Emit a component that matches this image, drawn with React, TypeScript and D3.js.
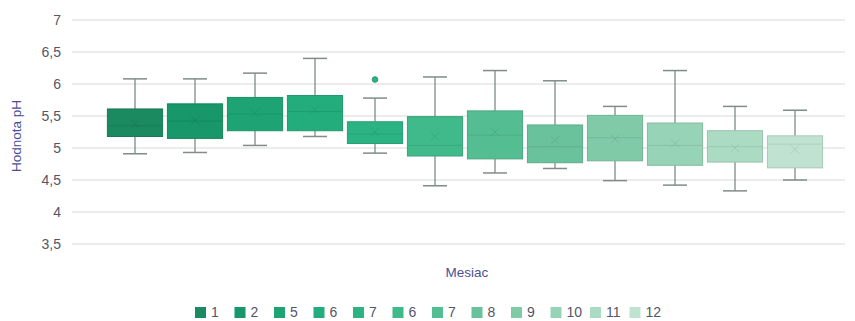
import React from "react";
import * as d3 from "d3";

const categories = ["1", "2", "3", "4", "5", "6", "7", "8", "9", "10", "11", "12"];
const legendLabels = ["1", "2", "5", "6", "7", "6", "7", "8", "9", "10", "11", "12"];
const whiskerLow = [4.91, 4.93, 5.04, 5.18, 4.92, 4.41, 4.61, 4.68, 4.49, 4.42, 4.33, 4.5];
const q1 = [5.18, 5.15, 5.27, 5.27, 5.07, 4.875, 4.83, 4.77, 4.8, 4.73, 4.78, 4.69];
const medians = [5.35, 5.42, 5.53, 5.57, 5.22, 5.04, 5.2, 5.02, 5.16, 5.04, 5.02, 5.06];
const q3 = [5.61, 5.69, 5.79, 5.82, 5.41, 5.49, 5.58, 5.36, 5.51, 5.39, 5.27, 5.19];
const whiskerHigh = [6.08, 6.08, 6.17, 6.4, 5.78, 6.11, 6.21, 6.05, 5.65, 6.21, 5.65, 5.59];
const means = [5.38, 5.43, 5.55, 5.6, 5.25, 5.18, 5.25, 5.12, 5.14, 5.07, 5.0, 4.98];
const outliers: [number, number][] = [[4, 6.07]];
const colors = ["#1b8a61", "#17976a", "#1ea474", "#23ac7c", "#2cb384", "#40b98b", "#55bd92", "#69c29c", "#80caa8", "#97d3b6", "#acdbc4", "#c0e3d1"];
const yTicks = [3.5, 4, 4.5, 5, 5.5, 6, 6.5, 7];

export default function App() {
  const W = 855, H = 321;
  const y = d3.scaleLinear().domain([3.5, 7]).range([244, 20]);
  const x = d3.scaleBand().domain(categories).range([105, 825]).paddingInner(0.08).paddingOuter(0.04);
  const bw = x.bandwidth();
  const capW = 24;
  const whiskerColor = "#7f8c88";
  const fmt = (v: number) => String(v).replace(".", ",");
  const legendX = d3.scaleBand().domain(d3.range(12).map(String)).range([195, 669]);

  return (
    <svg width={W} height={H} style={{ position: "absolute", left: 0, top: 0, background: "#fff" }}
      fontFamily="Liberation Sans, Arial, sans-serif">
      {yTicks.map((t) => (
        <g key={t}>
          <line x1={72} x2={845} y1={y(t)} y2={y(t)} stroke="#e6e6e6" strokeWidth={1.5} />
          <text x={61} y={y(t)} dy="0.35em" textAnchor="end" fontSize={14} fill="#55556a">{fmt(t)}</text>
        </g>
      ))}
      <text transform={`translate(21,${(y(3.5) + y(7)) / 2 + 4}) rotate(-90)`} textAnchor="middle" fontSize={13.5} fill="#4b5096">Hodnota pH</text>
      {categories.map((c, i) => {
        const x0 = x(c)!;
        const cx = x0 + bw / 2;
        const stroke = d3.color(colors[i])!.darker(0.35).formatHex();
        return (
          <g key={i}>
            <line x1={cx} x2={cx} y1={y(whiskerHigh[i])} y2={y(q3[i])} stroke={whiskerColor} strokeWidth={1.3} />
            <line x1={cx} x2={cx} y1={y(q1[i])} y2={y(whiskerLow[i])} stroke={whiskerColor} strokeWidth={1.3} />
            <line x1={cx - capW / 2} x2={cx + capW / 2} y1={y(whiskerHigh[i])} y2={y(whiskerHigh[i])} stroke={whiskerColor} strokeWidth={1.5} />
            <line x1={cx - capW / 2} x2={cx + capW / 2} y1={y(whiskerLow[i])} y2={y(whiskerLow[i])} stroke={whiskerColor} strokeWidth={1.5} />
            <rect x={x0} y={y(q3[i])} width={bw} height={y(q1[i]) - y(q3[i])} fill={colors[i]} stroke={stroke} strokeWidth={1} />
            <line x1={x0} x2={x0 + bw} y1={y(medians[i])} y2={y(medians[i])} stroke={stroke} strokeWidth={1} opacity={0.7} />
            <path d={`M${cx - 4},${y(means[i]) - 4}L${cx + 4},${y(means[i]) + 4}M${cx - 4},${y(means[i]) + 4}L${cx + 4},${y(means[i]) - 4}`} stroke={stroke} strokeWidth={1} opacity={0.7} />
          </g>
        );
      })}
      {outliers.map(([i, v], k) => (
        <circle key={k} cx={x(categories[i])! + bw / 2} cy={y(v)} r={2.8} fill={colors[i]} stroke={d3.color(colors[i])!.darker(0.5).formatHex()} />
      ))}
      <text x={467} y={277} textAnchor="middle" fontSize={13.5} fill="#4b5096">Mesiac</text>
      {legendLabels.map((l, i) => {
        const lx = legendX(String(i))!;
        return (
          <g key={i}>
            <rect x={lx} y={307} width={11} height={11} fill={colors[i]} />
            <text x={lx + 16} y={312.5} dy="0.35em" fontSize={14} fill="#55556a">{l}</text>
          </g>
        );
      })}
    </svg>
  );
}
